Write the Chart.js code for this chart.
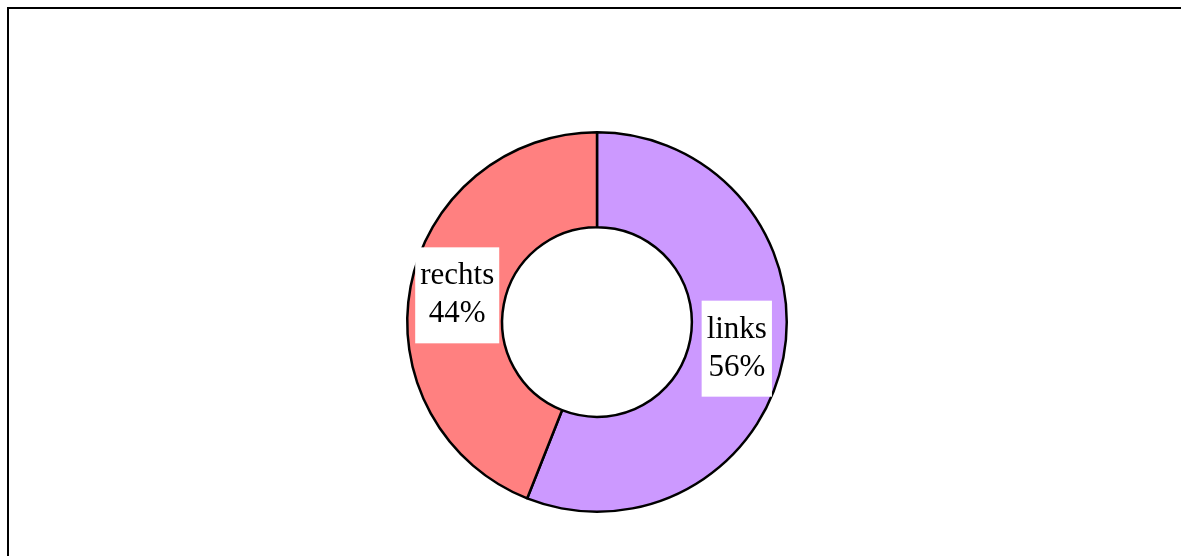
<!DOCTYPE html>
<html>
<head>
<meta charset="utf-8">
<script src="https://cdn.jsdelivr.net/npm/chart.js@4/dist/chart.umd.min.js"></script>
<style>
  html, body { margin: 0; padding: 0; background: #ffffff; }
  #wrap { width: 1181px; height: 556px; position: relative; }
</style>
</head>
<body>
<div id="wrap"><canvas id="c"></canvas></div>
<script>
// Seiten und Anteile
const categories = ['links', 'rechts'];
const shares = [56, 44];
const sliceColors = ['#CC99FF', '#FF8080'];

const labelFont = '31px "Liberation Serif", "Times New Roman", serif';

// Rahmen um die Zeichenfläche
const framePlugin = {
  id: 'frame',
  beforeDraw(chart) {
    const ctx = chart.ctx;
    ctx.save();
    ctx.strokeStyle = '#000000';
    ctx.lineWidth = 2;
    ctx.strokeRect(8, 8, 1400, 800);
    ctx.restore();
  }
};

// Beschriftung jedes Segments: Name und Prozentwert in einem weißen Kasten
const sliceLabels = {
  id: 'sliceLabels',
  afterDatasetsDraw(chart) {
    const ctx = chart.ctx;
    const meta = chart.getDatasetMeta(0);
    const data = chart.data.datasets[0].data;
    const total = data.reduce((a, b) => a + b, 0);
    ctx.save();
    ctx.font = labelFont;
    ctx.textAlign = 'center';
    ctx.textBaseline = 'middle';
    const lineH = 38, padX = 5, padY = 10;
    meta.data.forEach((arc, i) => {
      const p = arc.getCenterPoint();
      const lines = [chart.data.labels[i], Math.round(data[i] / total * 100) + '%'];
      const w = Math.max(...lines.map(t => ctx.measureText(t).width)) + 2 * padX;
      const h = lines.length * lineH + 2 * padY;
      ctx.fillStyle = '#ffffff';
      ctx.fillRect(p.x - w / 2, p.y - h / 2, w, h);
      ctx.fillStyle = '#000000';
      lines.forEach((t, k) => {
        ctx.fillText(t, p.x, p.y - h / 2 + padY + lineH * (k + 0.5));
      });
    });
    ctx.restore();
  }
};

new Chart(document.getElementById('c'), {
  type: 'doughnut',
  data: {
    labels: categories,
    datasets: [{
      data: shares,
      backgroundColor: sliceColors,
      borderColor: '#000000',
      borderWidth: 2.5,
      hoverOffset: 0
    }]
  },
  options: {
    responsive: true,
    maintainAspectRatio: false,
    animation: false,
    cutout: '50%',
    layout: { padding: { top: 131, bottom: 43, left: 13, right: 0 } },
    plugins: {
      legend: { display: false },
      tooltip: { enabled: false }
    }
  },
  plugins: [framePlugin, sliceLabels]
});
</script>
</body>
</html>
